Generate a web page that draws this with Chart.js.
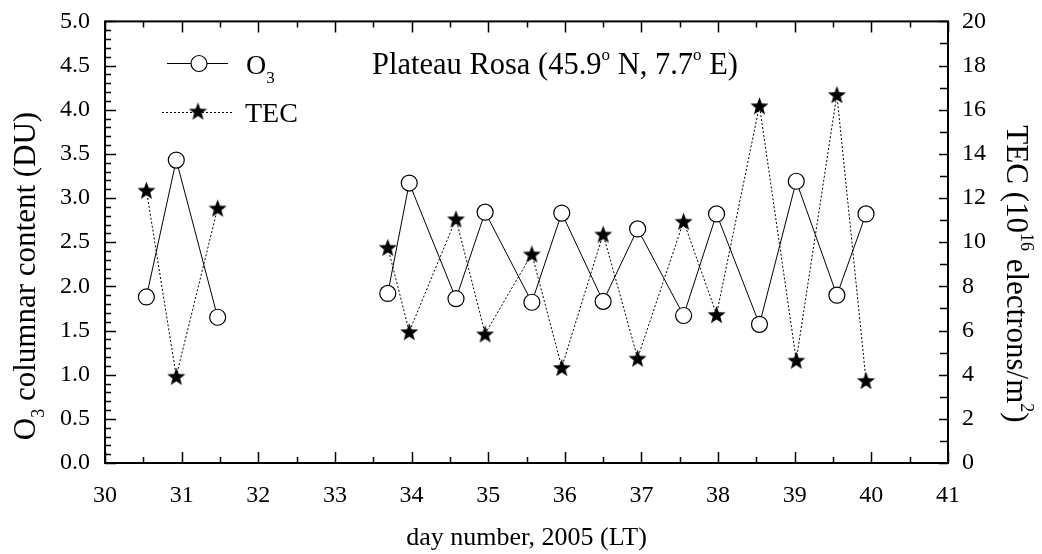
<!DOCTYPE html>
<html>
<head>
<meta charset="utf-8">
<script src="https://cdn.jsdelivr.net/npm/chart.js@4.4.1/dist/chart.umd.min.js"></script>
<style>
  html, body { margin: 0; padding: 0; background: #fff; }
  #wrap { width: 1042px; height: 554px; position: relative; }
</style>
</head>
<body>
<div id="wrap"><canvas id="ozoneChart"></canvas></div>
<script>
const days = [30.54, 30.93, 31.47, 33.69, 33.97, 34.58, 34.96, 35.57, 35.96,
    36.50, 36.95, 37.55, 37.98, 38.54, 39.02, 39.55, 39.93];
const dataO3 = [1.88, 3.43, 1.65, 1.92, 3.17, 1.86, 2.84, 1.82, 2.83,
    1.83, 2.65, 1.67, 2.82, 1.57, 3.19, 1.90, 2.82];
const dataTEC = [12.36, 3.93, 11.55, 9.77, 5.95, 11.06, 5.85, 9.47, 4.33,
    10.37, 4.75, 10.95, 6.73, 16.18, 4.66, 16.69, 3.74];

const serif = '"Liberation Serif", "Times New Roman", serif';

// filled five point star used as marker
function makeStar(r) {
    const c = document.createElement('canvas');
    c.width = c.height = Math.ceil(r * 2 + 2);
    const g = c.getContext('2d');
    const cx = c.width / 2, cy = c.height / 2 + r * 0.1;
    g.beginPath();
    for (let i = 0; i < 10; i++) {
        const rad = i % 2 === 0 ? r : r * 0.42;
        const a = -Math.PI / 2 + i * Math.PI / 5;
        g.lineTo(cx + rad * Math.cos(a), cy + rad * Math.sin(a));
    }
    g.closePath();
    g.fillStyle = '#000';
    g.fill();
    return c;
}
const star = makeStar(9.5);

// text runs with sub/superscripts
function drawRuns(ctx, runs, x, y, align) {
    let w = 0;
    runs.forEach(r => { ctx.font = r.size + 'px ' + serif; r.w = ctx.measureText(r.t).width; w += r.w; });
    let cx = align === 'center' ? x - w / 2 : x;
    ctx.textAlign = 'left';
    ctx.textBaseline = 'alphabetic';
    runs.forEach(r => {
        ctx.font = r.size + 'px ' + serif;
        ctx.fillText(r.t, cx, y + (r.dy || 0));
        cx += r.w;
    });
}

const gapless = ctx => (ctx.p1.parsed.x - ctx.p0.parsed.x > 1.5 ? 'rgba(0,0,0,0)' : '#000');

const decorPlugin = {
    id: 'decor',
    afterDraw(chart) {
        const ctx = chart.ctx;
        const a = chart.chartArea;
        const sx = chart.scales.x, sy = chart.scales.y, sy1 = chart.scales.y1;
        ctx.save();
        ctx.strokeStyle = '#000';
        ctx.fillStyle = '#000';
        ctx.lineWidth = 2;
        ctx.strokeRect(a.left, a.top, a.right - a.left, a.bottom - a.top);

        ctx.lineWidth = 1.5;
        ctx.beginPath();
        for (let i = 0; i <= 22; i++) {
            const v = 30 + i * 0.5;
            const px = Math.round(sx.getPixelForValue(v)) + 0.5;
            const len = i % 2 === 0 ? 11 : 6;
            ctx.moveTo(px, a.bottom); ctx.lineTo(px, a.bottom - len);
            ctx.moveTo(px, a.top); ctx.lineTo(px, a.top + len);
        }
        for (let i = 0; i <= 50; i++) {
            const py = Math.round(sy.getPixelForValue(i / 10)) + 0.5;
            const len = i % 5 === 0 ? 11 : 6;
            ctx.moveTo(a.left, py); ctx.lineTo(a.left + len, py);
        }
        for (let i = 0; i <= 20; i++) {
            const py = Math.round(sy1.getPixelForValue(i)) + 0.5;
            const len = i % 2 === 0 ? 9 : 8;
            ctx.moveTo(a.right, py); ctx.lineTo(a.right - len, py);
        }
        ctx.stroke();

        // header
        drawRuns(ctx, [
            {t: 'Plateau Rosa (45.9', size: 30.5},
            {t: 'o', size: 17, dy: -14},
            {t: ' N, 7.7', size: 30.5},
            {t: 'o', size: 17, dy: -14},
            {t: ' E)', size: 30.5}
        ], 372, 74, 'left');

        // legend
        ctx.lineWidth = 1;
        ctx.beginPath();
        ctx.moveTo(167, 63.5); ctx.lineTo(228, 63.5);
        ctx.stroke();
        ctx.beginPath();
        ctx.arc(199, 63.5, 8, 0, Math.PI * 2);
        ctx.fillStyle = '#fff'; ctx.fill();
        ctx.lineWidth = 1.2; ctx.stroke();
        ctx.fillStyle = '#000';
        drawRuns(ctx, [{t: 'O', size: 28}, {t: '3', size: 17, dy: 9}], 246, 74, 'left');
        ctx.lineWidth = 1;
        ctx.setLineDash([2, 2]);
        ctx.beginPath();
        ctx.moveTo(162, 112.5); ctx.lineTo(232, 112.5);
        ctx.stroke();
        ctx.setLineDash([]);
        ctx.drawImage(star, 198 - star.width / 2, 111 - star.height / 2);
        drawRuns(ctx, [{t: 'TEC', size: 28}], 245, 122, 'left');

        // axis titles
        drawRuns(ctx, [{t: 'day number, 2005 (LT)', size: 26}], (a.left + a.right) / 2, 545, 'center');

        ctx.save();
        ctx.translate(35, 276);
        ctx.rotate(-Math.PI / 2);
        drawRuns(ctx, [
            {t: 'O', size: 31},
            {t: '3', size: 18, dy: 9},
            {t: ' columnar content (DU)', size: 31}
        ], 0, 0, 'center');
        ctx.restore();

        ctx.save();
        ctx.translate(1007, 274);
        ctx.rotate(Math.PI / 2);
        drawRuns(ctx, [
            {t: 'TEC (10', size: 31},
            {t: '16', size: 18, dy: -14},
            {t: ' electrons/m', size: 31},
            {t: '2', size: 18, dy: -14},
            {t: ')', size: 31}
        ], 0, 0, 'center');
        ctx.restore();
        ctx.restore();
    }
};

document.addEventListener('DOMContentLoaded', function() {
    const tickFont = {family: serif, size: 24};
    new Chart(document.getElementById('ozoneChart').getContext('2d'), {
        type: 'line',
        data: {
            datasets: [{
                label: 'TEC',
                data: days.map((d, i) => ({x: d, y: dataTEC[i]})),
                yAxisID: 'y1',
                borderColor: '#000',
                borderWidth: 1,
                borderDash: [2, 2],
                pointStyle: star,
                segment: {borderColor: gapless},
                order: 2
            }, {
                label: 'O3',
                data: days.map((d, i) => ({x: d, y: dataO3[i]})),
                yAxisID: 'y',
                borderColor: '#000',
                borderWidth: 1,
                pointStyle: 'circle',
                pointRadius: 8,
                pointBackgroundColor: '#fff',
                pointBorderColor: '#000',
                pointBorderWidth: 1.2,
                segment: {borderColor: gapless},
                order: 1
            }]
        },
        options: {
            responsive: true,
            maintainAspectRatio: false,
            animation: false,
            layout: {padding: {top: 20, left: 0, right: 0, bottom: 0}},
            plugins: {legend: false, tooltip: {enabled: false}},
            elements: {line: {tension: 0}},
            scales: {
                x: {
                    type: 'linear', min: 30, max: 41,
                    grid: {display: false}, border: {display: false},
                    ticks: {stepSize: 1, font: tickFont, color: '#000', padding: 10, maxRotation: 0},
                    afterFit(s) { s.height = 91; }
                },
                y: {
                    type: 'linear', position: 'left', min: 0, max: 5,
                    grid: {display: false}, border: {display: false},
                    ticks: {stepSize: 0.5, font: tickFont, color: '#000', padding: 7,
                        callback: v => v.toFixed(1)},
                    afterFit(s) { s.width = 105; }
                },
                y1: {
                    type: 'linear', position: 'right', min: 0, max: 20,
                    grid: {display: false}, border: {display: false},
                    ticks: {stepSize: 2, font: tickFont, color: '#000', padding: 6},
                    afterFit(s) { s.width = 94; }
                }
            }
        },
        plugins: [decorPlugin]
    });
});
</script>
</body>
</html>
